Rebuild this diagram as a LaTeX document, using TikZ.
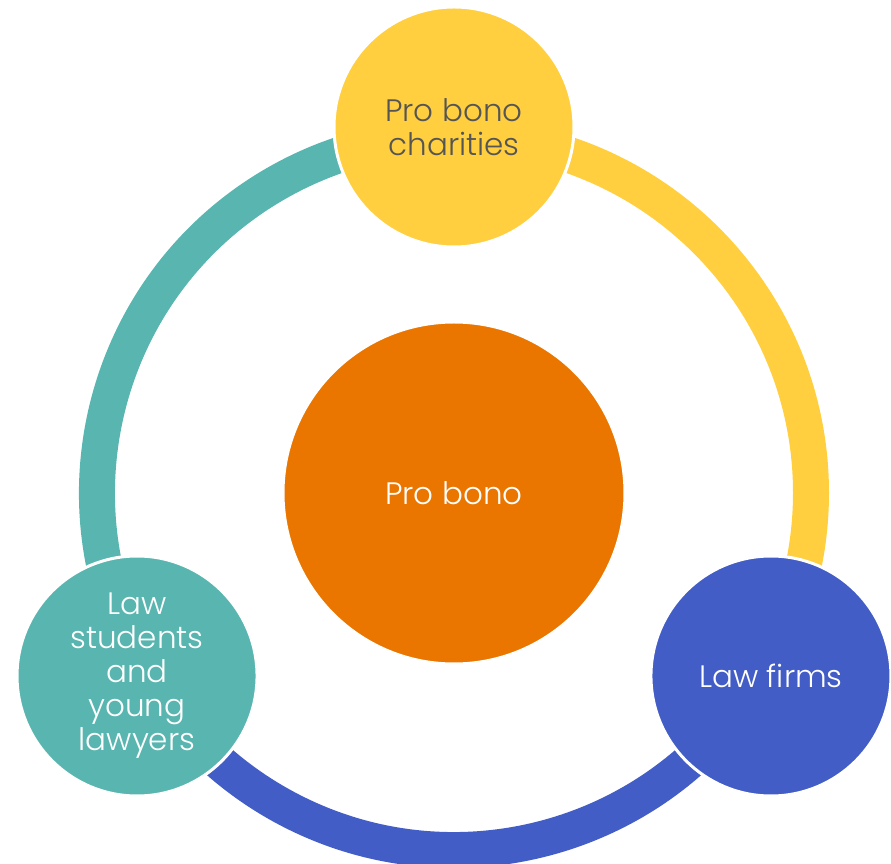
\documentclass[tikz,border=0pt]{standalone}
\usepackage{fontspec}
\setmainfont{Poppins}[UprightFont={* Light}]
\usepackage{tikz}

\definecolor{gold}{HTML}{FFCF40}
\definecolor{amber}{HTML}{EA7600}
\definecolor{royal}{HTML}{425DC6}
\definecolor{teal}{HTML}{58B5AF}
\definecolor{slate}{HTML}{555555}

\tikzset{
	disc/.style={circle, draw=white, line width=3, minimum size=240, inner sep=0, align=center, text=white, font=\fontsize{31}{34}\selectfont},
	band/.style={line width=36, line cap=butt}
}

\begin{document}
\begin{tikzpicture}[x=1pt, y=1pt]
		\useasboundingbox (-454,-371) rectangle (437,493);

		\coordinate (rtop) at (90:357);
		\coordinate (rright) at (-30:357);
		\coordinate (rleft) at (210:357);

		\draw [band, gold] (rtop) arc [start angle=90, end angle=-30, radius=357];
		\draw [band, royal] (rright) arc [start angle=-30, end angle=-150, radius=357];
		\draw [band, teal] (rleft) arc [start angle=210, end angle=90, radius=357];

		\node [disc, fill=amber, minimum size=342] (hub) at (0,0) {Pro bono};
		\node [disc, fill=gold, text=slate] (charities) at (90:366) {Pro bono\\charities};
		\node [disc, fill=royal] (firms) at (-30:366) {Law firms};
		\node [disc, fill=teal] (students) at (210:366) {Law\\students\\and\\young\\lawyers};

	\end{tikzpicture}
\end{document}
